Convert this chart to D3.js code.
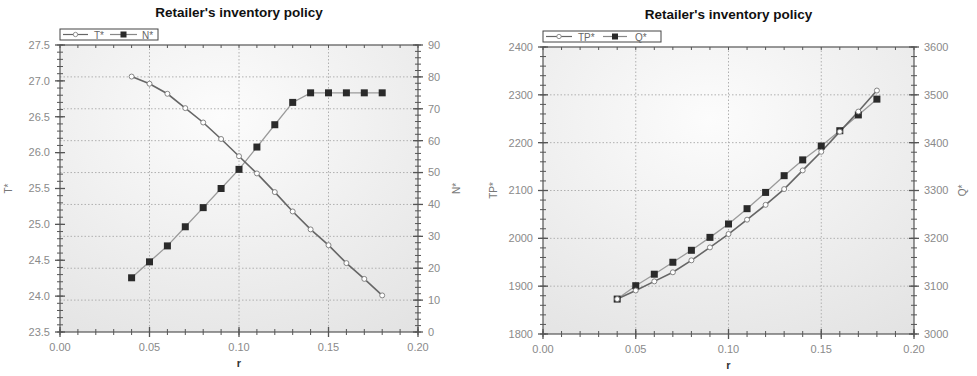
<!DOCTYPE html>
<html>
<head>
<meta charset="utf-8">
<script src="https://cdn.jsdelivr.net/npm/d3@7"></script>
<style>
  body { margin: 0; background: #fff; }
  svg { display: block; font-family: "Liberation Sans", Arial, sans-serif; }
</style>
</head>
<body>
<svg id="chart" width="977" height="376"></svg>
<script>
// data
const rValues = [0.04, 0.05, 0.06, 0.07, 0.08, 0.09, 0.10, 0.11, 0.12, 0.13, 0.14, 0.15, 0.16, 0.17, 0.18];
const tStar  = [27.06, 26.96, 26.82, 26.62, 26.42, 26.19, 25.95, 25.71, 25.45, 25.18, 24.93, 24.71, 24.46, 24.24, 24.01];
const nStar  = [17, 22, 27, 33, 39, 45, 51, 58, 65, 72, 75, 75, 75, 75, 75];
const tpStar = [1873, 1891, 1910, 1929, 1954, 1981, 2009, 2039, 2070, 2103, 2142, 2181, 2223, 2265, 2309];
const qStar  = [3073, 3101, 3125, 3150, 3175, 3202, 3230, 3262, 3296, 3331, 3364, 3393, 3425, 3458, 3491];

const title = "Retailer's inventory policy";

const svg = d3.select("#chart");
const defs = svg.append("defs");

const grad = defs.append("radialGradient")
  .attr("id", "bg").attr("cx", "45%").attr("cy", "25%").attr("r", "95%");
grad.append("stop").attr("offset", "0%").attr("stop-color", "#fcfcfc");
grad.append("stop").attr("offset", "100%").attr("stop-color", "#e2e2e2");

function drawPanel(p) {
  const x = d3.scaleLinear().domain([0, 0.2]).range([p.left, p.right]);
  const yL = d3.scaleLinear().domain(p.leftDomain).range([p.bottom, p.top]);
  const yR = d3.scaleLinear().domain(p.rightDomain).range([p.bottom, p.top]);
  const g = svg.append("g");

  // plot background
  g.append("rect")
    .attr("x", p.left).attr("y", p.top)
    .attr("width", p.right - p.left).attr("height", p.bottom - p.top)
    .attr("fill", "url(#bg)");

  // dotted grid (vertical on major x, horizontal on right-axis majors)
  g.selectAll(".vgrid").data([0.05, 0.10, 0.15]).join("line")
    .attr("x1", d => x(d)).attr("x2", d => x(d))
    .attr("y1", p.top).attr("y2", p.bottom)
    .attr("stroke", "#b0b0b0").attr("stroke-dasharray", "1.5,2");
  g.selectAll(".hgrid").data(p.gridVals).join("line")
    .attr("x1", p.left).attr("x2", p.right)
    .attr("y1", d => yR(d)).attr("y2", d => yR(d))
    .attr("stroke", "#b0b0b0").attr("stroke-dasharray", "1.5,2");

  // frame
  g.append("rect")
    .attr("x", p.left).attr("y", p.top)
    .attr("width", p.right - p.left).attr("height", p.bottom - p.top)
    .attr("fill", "none").attr("stroke", "#555").attr("stroke-width", 1.2);

  const tickCol = "#555";
  const labCol = "#8a8a8a";

  // bottom axis: major + minor ticks crossing the line
  const xMinor = d3.range(0, 0.2001, 0.01);
  g.selectAll(".xmin").data(xMinor).join("line")
    .attr("x1", d => x(d)).attr("x2", d => x(d))
    .attr("y1", p.bottom - 3).attr("y2", p.bottom + 3)
    .attr("stroke", tickCol);
  g.selectAll(".xmaj").data([0, 0.05, 0.1, 0.15, 0.2]).join("line")
    .attr("x1", d => x(d)).attr("x2", d => x(d))
    .attr("y1", p.bottom - 5).attr("y2", p.bottom + 5)
    .attr("stroke", tickCol).attr("stroke-width", 1.3);
  g.selectAll(".xlab").data([0, 0.05, 0.1, 0.15, 0.2]).join("text")
    .attr("x", d => x(d)).attr("y", p.bottom + 19)
    .attr("text-anchor", "middle").attr("fill", labCol)
    .style("font-size", "11px")
    .text(d3.format(".2f"));
  // top axis small ticks
  g.selectAll(".xtop").data(xMinor).join("line")
    .attr("x1", d => x(d)).attr("x2", d => x(d))
    .attr("y1", p.top).attr("y2", p.top + 3)
    .attr("stroke", tickCol);

  // left axis
  g.selectAll(".ylmin").data(p.leftMinor).join("line")
    .attr("x1", p.left - 3).attr("x2", p.left + 3)
    .attr("y1", d => yL(d)).attr("y2", d => yL(d))
    .attr("stroke", tickCol);
  g.selectAll(".ylmaj").data(p.leftMajor).join("line")
    .attr("x1", p.left - 5).attr("x2", p.left + 5)
    .attr("y1", d => yL(d)).attr("y2", d => yL(d))
    .attr("stroke", tickCol).attr("stroke-width", 1.3);
  g.selectAll(".yllab").data(p.leftMajor).join("text")
    .attr("x", p.left - 10).attr("y", d => yL(d)).attr("dy", "0.35em")
    .attr("text-anchor", "end").attr("fill", labCol)
    .style("font-size", "11px")
    .text(p.leftFmt);

  // right axis
  g.selectAll(".yrmin").data(p.rightMinor).join("line")
    .attr("x1", p.right - 3).attr("x2", p.right + 3)
    .attr("y1", d => yR(d)).attr("y2", d => yR(d))
    .attr("stroke", tickCol);
  g.selectAll(".yrmaj").data(p.rightMajor).join("line")
    .attr("x1", p.right - 5).attr("x2", p.right + 5)
    .attr("y1", d => yR(d)).attr("y2", d => yR(d))
    .attr("stroke", tickCol).attr("stroke-width", 1.3);
  g.selectAll(".yrlab").data(p.rightMajor).join("text")
    .attr("x", p.right + 10).attr("y", d => yR(d)).attr("dy", "0.35em")
    .attr("text-anchor", "start").attr("fill", labCol)
    .style("font-size", "11px")
    .text(d => d);

  // titles and axis names
  g.append("text")
    .attr("x", (p.left + p.right) / 2).attr("y", p.titleY)
    .attr("text-anchor", "middle").attr("fill", "#111")
    .style("font-size", "13.5px").style("font-weight", "bold")
    .text(title);
  g.append("text")
    .attr("x", (p.left + p.right) / 2).attr("y", p.bottom + 35)
    .attr("text-anchor", "middle").attr("fill", "#333")
    .style("font-size", "11px").style("font-weight", "bold")
    .text("r");
  g.append("text")
    .attr("transform", `translate(${p.leftNameX},${(p.top + p.bottom) / 2}) rotate(-90)`)
    .attr("text-anchor", "middle").attr("fill", "#777")
    .style("font-size", "10px")
    .text(p.leftName);
  g.append("text")
    .attr("transform", `translate(${p.rightNameX},${(p.top + p.bottom) / 2}) rotate(-90)`)
    .attr("text-anchor", "middle").attr("fill", "#777")
    .style("font-size", "10px")
    .text(p.rightName);

  // series: right-axis one (squares) first, then left-axis one (circles)
  const lineR = d3.line().x((d, i) => x(rValues[i])).y(d => yR(d));
  const lineL = d3.line().x((d, i) => x(rValues[i])).y(d => yL(d));

  g.append("path").attr("d", lineR(p.rightData))
    .attr("fill", "none").attr("stroke", "#9a9a9a").attr("stroke-width", 1.3);
  g.append("path").attr("d", lineL(p.leftData))
    .attr("fill", "none").attr("stroke", "#666").attr("stroke-width", 1.6);

  g.selectAll(".sq").data(p.rightData).join("rect")
    .attr("x", (d, i) => x(rValues[i]) - 3.5).attr("y", d => yR(d) - 3.5)
    .attr("width", 7).attr("height", 7)
    .attr("fill", "#2a2a2a");
  g.selectAll(".ci").data(p.leftData).join("circle")
    .attr("cx", (d, i) => x(rValues[i])).attr("cy", d => yL(d))
    .attr("r", 2.5)
    .attr("fill", "#fff").attr("stroke", "#777").attr("stroke-width", 0.9);

  // legend box
  const L = p.legend;
  const lg = g.append("g").attr("transform", `translate(${p.left},${p.top - 16})`);
  lg.append("rect").attr("width", L.w).attr("height", 11)
    .attr("fill", "#fff").attr("stroke", "#444").attr("stroke-width", 1);
  lg.append("line").attr("x1", L.l1[0]).attr("x2", L.l1[1]).attr("y1", 5.5).attr("y2", 5.5)
    .attr("stroke", "#666").attr("stroke-width", 1.2);
  lg.append("circle").attr("cx", (L.l1[0] + L.l1[1]) / 2).attr("cy", 5.5).attr("r", 2.2)
    .attr("fill", "#fff").attr("stroke", "#777").attr("stroke-width", 0.8);
  lg.append("text").attr("x", L.t1).attr("y", 9.5).attr("fill", "#666")
    .style("font-size", "10px").text(p.leftName);
  lg.append("line").attr("x1", L.l2[0]).attr("x2", L.l2[1]).attr("y1", 5.5).attr("y2", 5.5)
    .attr("stroke", "#888").attr("stroke-width", 1.2);
  lg.append("rect").attr("x", (L.l2[0] + L.l2[1]) / 2 - 3).attr("y", 2.5).attr("width", 6).attr("height", 6)
    .attr("fill", "#2a2a2a");
  lg.append("text").attr("x", L.t2).attr("y", 9.5).attr("fill", "#666")
    .style("font-size", "10px").text(p.rightName);
}

drawPanel({
  left: 60, right: 418, top: 45, bottom: 332, titleY: 17,
  leftDomain: [23.5, 27.5], rightDomain: [0, 90],
  leftMajor: d3.range(23.5, 27.51, 0.5), leftMinor: d3.range(23.5, 27.51, 0.1),
  rightMajor: d3.range(0, 91, 10), rightMinor: d3.range(0, 91, 2),
  gridVals: d3.range(10, 81, 10),
  leftFmt: d3.format(".1f"),
  leftName: "T*", rightName: "N*", leftNameX: 12, rightNameX: 460,
  leftData: tStar, rightData: nStar,
  legend: { w: 98, l1: [3, 28], t1: 34, l2: [50, 77], t2: 82 }
});

drawPanel({
  left: 543, right: 914, top: 47, bottom: 334, titleY: 19,
  leftDomain: [1800, 2400], rightDomain: [3000, 3600],
  leftMajor: d3.range(1800, 2401, 100), leftMinor: d3.range(1800, 2401, 20),
  rightMajor: d3.range(3000, 3601, 100), rightMinor: d3.range(3000, 3601, 20),
  gridVals: d3.range(3100, 3501, 100),
  leftFmt: d3.format("d"),
  leftName: "TP*", rightName: "Q*", leftNameX: 497, rightNameX: 966,
  leftData: tpStar, rightData: qStar,
  legend: { w: 118, l1: [3, 29], t1: 35, l2: [60, 84], t2: 92 }
});
</script>
</body>
</html>
